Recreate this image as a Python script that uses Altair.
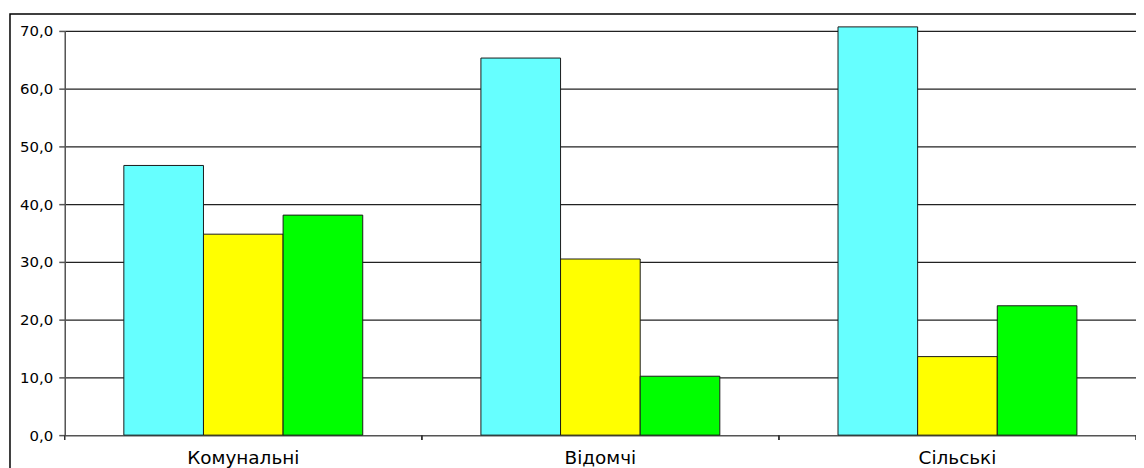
import altair as alt
import pandas as pd

categories = ["Комунальні", "Відомчі", "Сільські"]
series = ["s1", "s2", "s3"]
colors = ["#66FFFF", "#FFFF00", "#00FF00"]
values = {
    "s1": [46.7, 65.3, 70.7],
    "s2": [34.8, 30.5, 13.6],
    "s3": [38.1, 10.2, 22.4],
}

rows = []
for s in series:
    for c, v in zip(categories, values[s]):
        rows.append({"cat": c, "series": s, "value": v})
df = pd.DataFrame(rows)
cats_df = pd.DataFrame({"cat": categories})
frame_df = pd.DataFrame({"k": [0]})

W, H = 1076, 406
FONT = "DejaVu Sans"

xscale = alt.Scale(domain=categories, paddingInner=0, paddingOuter=0)

bars = alt.Chart(df).mark_bar(stroke="#1a1a1a", strokeWidth=1).encode(
    x=alt.X("cat:N", scale=xscale, sort=categories, title=None,
            axis=alt.Axis(labelAngle=0, ticks=False, labelPadding=13,
                          labelFontSize=18.5, labelColor="black", labelFont=FONT,
                          domainColor="#555555", domainWidth=1.5, grid=False)),
    xOffset=alt.XOffset("series:N", sort=series,
                        scale=alt.Scale(paddingOuter=0.742, paddingInner=0)),
    y=alt.Y("value:Q", title=None,
            scale=alt.Scale(domain=[0, 70], nice=False, zero=True),
            axis=alt.Axis(values=[0, 10, 20, 30, 40, 50, 60, 70],
                          labelExpr="replace(format(datum.value, '.1f'), '.', ',')",
                          tickSize=6, tickColor="#555555", tickWidth=1.5,
                          domainColor="#555555", domainWidth=1.5,
                          labelPadding=6, labelFontSize=15, labelColor="black",
                          labelFont=FONT,
                          grid=True, gridColor="#222222", gridWidth=1.2)),
    color=alt.Color("series:N", sort=series,
                    scale=alt.Scale(domain=series, range=colors), legend=None),
)

ticks_left = alt.Chart(cats_df).mark_rule(color="#333333", strokeWidth=1.5).encode(
    x=alt.X("cat:N", scale=xscale, sort=categories, bandPosition=0),
    y=alt.value(H),
    y2=alt.value(H + 5),
)
ticks_right = alt.Chart(cats_df).mark_rule(color="#333333", strokeWidth=1.5).encode(
    x=alt.X("cat:N", scale=xscale, sort=categories, bandPosition=1),
    y=alt.value(H),
    y2=alt.value(H + 5),
)

frame = alt.Chart(frame_df).mark_rect(fill=None, stroke="black", strokeWidth=1.5, clip=False).encode(
    x=alt.value(-55),
    x2=alt.value(W + 60),
    y=alt.value(-17),
    y2=alt.value(H + 60),
)

chart = alt.layer(bars, ticks_left, ticks_right, frame).properties(
    width=W, height=H,
    autosize=alt.AutoSizeParams(type="none"),
    padding={"left": 57, "top": 22, "right": 0, "bottom": 32},
).configure_view(stroke=None).configure(background="white")

chart.save("out.html", embed_options={"renderer": "svg", "actions": False})
